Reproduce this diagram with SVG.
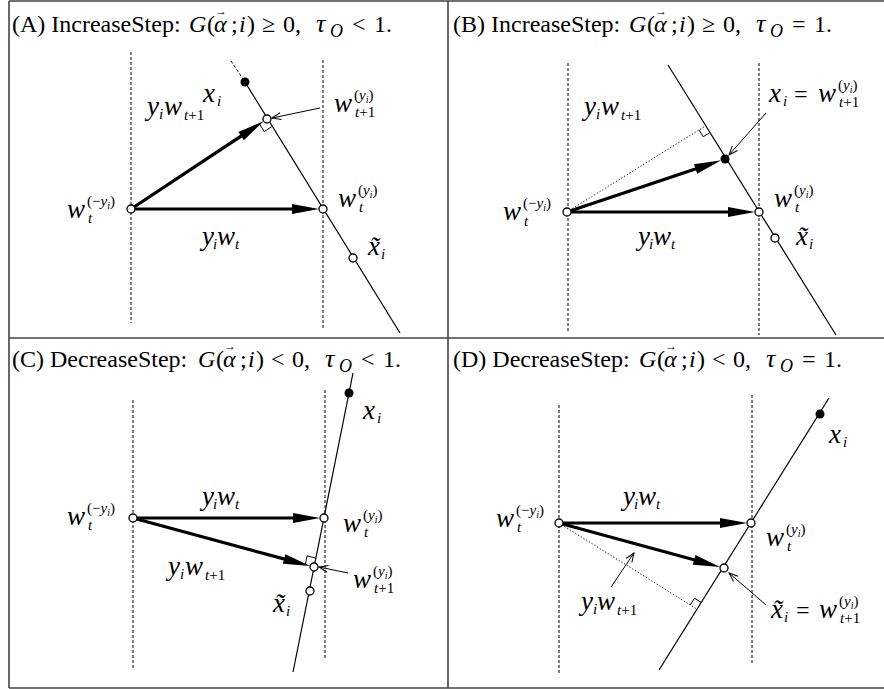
<svg xmlns="http://www.w3.org/2000/svg" width="884" height="689" viewBox="0 0 884 689" font-family="'Liberation Serif', serif">
<style>
.t{font-family:'Liberation Serif',serif;font-size:24px;fill:#000}
.it{font-style:italic}
.tau{font-size:26px}
.so{font-size:18px}
.vec{font-size:12px;font-style:normal}
.m{font-family:'Liberation Serif',serif;font-style:italic;font-size:27px;fill:#000}
.r{font-family:'Liberation Serif',serif;font-size:24px;fill:#000}
.s{font-family:'Liberation Serif',serif;font-size:15px;fill:#000}
.si{font-style:italic}
.ss{font-size:10px;font-style:italic}
.frame{stroke:#444;stroke-width:1.6;fill:none}
.dash{stroke:#000;stroke-width:1;stroke-dasharray:3 2;fill:none}
.dot{stroke:#000;stroke-width:1;stroke-dasharray:1.2 2;fill:none}
.ln{stroke:#000;stroke-width:1.2;fill:none}
.thick{stroke:#000;stroke-width:3.2;fill:none;marker-end:url(#ah)}
.thin{stroke:#000;stroke-width:1;fill:none;marker-end:url(#av)}
.ra{stroke:#000;stroke-width:1;fill:none}
.oc{fill:#fff;stroke:#000;stroke-width:1.3}
.fc{fill:#000}
</style>
<defs>
<marker id="ah" markerUnits="userSpaceOnUse" markerWidth="28" markerHeight="10" refX="17" refY="5" orient="auto" overflow="visible"><path d="M0,0 L27,5 L0,10 Z" fill="#000"/></marker>
<marker id="av" markerUnits="userSpaceOnUse" markerWidth="10" markerHeight="8" refX="9" refY="3.5" orient="auto" overflow="visible"><path d="M0,0 L9,3.5 L0,7" fill="none" stroke="#000" stroke-width="1"/></marker>
</defs>
<rect width="884" height="689" fill="#fff"/>
<g id="frame">
<path class="frame" d="M9,1 H884 M9,1 V688 M9,688 H884 M448,1 V688 M9,338 H884"/>
</g>

<!-- Panel A -->
<g id="panelA">
<text class="t" y="32"><tspan x="12">(A) IncreaseStep:</tspan><tspan x="189" class="it">G</tspan><tspan x="207">(</tspan><tspan x="214" class="it">α</tspan><tspan x="215" y="15" class="vec">→</tspan><tspan x="231" y="32">;</tspan><tspan x="239" class="it">i</tspan><tspan x="247">)</tspan><tspan x="262">≥</tspan><tspan x="283">0,</tspan><tspan x="316" class="it tau">τ</tspan><tspan x="330" y="37" class="it so">O</tspan><tspan x="352" y="32">&lt;</tspan><tspan x="374">1.</tspan></text>
<g id="A-connectors">
<line class="dash" x1="131" y1="52" x2="131" y2="323"/>
<line class="dash" x1="323" y1="60" x2="323" y2="330"/>
<line class="dash" x1="231" y1="61" x2="245" y2="82"/>
<line class="ln" x1="245" y1="82" x2="400" y2="333"/>
<line class="thick" x1="131" y1="209" x2="309" y2="209"/>
<line class="thick" x1="131" y1="209" x2="255.3" y2="126.7"/>
<path class="ra" d="M259.5,124 L264.2,131.6 L271.7,126.7"/>
<line class="thin" x1="320" y1="108" x2="272" y2="118"/>
<text class="m" x="147" y="115">y</text><text class="s si" x="159" y="119">i</text><text class="m" x="164" y="115">w</text><text class="s" x="184" y="120"><tspan class="si">t</tspan>+1</text>
<text class="m" x="202" y="245">y</text><text class="s si" x="213" y="249">i</text><text class="m" x="217" y="245">w</text><text class="s si" x="235" y="249">t</text>
</g>
<g id="A-xi"><circle class="fc" cx="245" cy="82" r="4.5"/><text class="m" x="203" y="102">x</text><text class="s si" x="217" y="106">i</text></g>
<g id="A-wnext"><circle class="oc" cx="267" cy="119" r="4"/><text class="m" x="334" y="112">w</text><text class="s" x="354" y="100">(<tspan class="si">y</tspan><tspan class="ss" dy="3">i</tspan><tspan dy="-3">)</tspan></text><text class="s" x="355" y="117"><tspan class="si">t</tspan>+1</text></g>
<g id="A-wpos"><circle class="oc" cx="323" cy="209" r="4"/><text class="m" x="338" y="207">w</text><text class="s" x="358" y="195">(<tspan class="si">y</tspan><tspan class="ss" dy="3">i</tspan><tspan dy="-3">)</tspan></text><text class="s si" x="359" y="212">t</text></g>
<g id="A-wneg"><circle class="oc" cx="131" cy="209" r="4"/><text class="m" x="67" y="218">w</text><text class="s" x="87" y="206">(−<tspan class="si">y</tspan><tspan class="ss" dy="3">i</tspan><tspan dy="-3">)</tspan></text><text class="s si" x="88" y="223">t</text></g>
<g id="A-xt"><circle class="oc" cx="353" cy="258" r="4"/><text class="m" x="368" y="255">x̃</text><text class="s si" x="381" y="259">i</text></g>
</g>

<!-- Panel B -->
<g id="panelB">
<text class="t" y="32"><tspan x="453">(B) IncreaseStep:</tspan><tspan x="629" class="it">G</tspan><tspan x="647">(</tspan><tspan x="654" class="it">α</tspan><tspan x="655" y="15" class="vec">→</tspan><tspan x="671" y="32">;</tspan><tspan x="679" class="it">i</tspan><tspan x="687">)</tspan><tspan x="702">≥</tspan><tspan x="723">0,</tspan><tspan x="756" class="it tau">τ</tspan><tspan x="770" y="37" class="it so">O</tspan><tspan x="792" y="32">=</tspan><tspan x="814">1.</tspan></text>
<g id="B-connectors">
<line class="dash" x1="568" y1="63" x2="568" y2="333"/>
<line class="dash" x1="759" y1="63" x2="759" y2="335"/>
<line class="ln" x1="668" y1="65" x2="836" y2="335"/>
<line class="dot" x1="567" y1="212" x2="705.8" y2="125.7"/>
<path class="ra" d="M699,129.9 L703.2,136.7 L710,132.5"/>
<line class="thick" x1="567" y1="212" x2="745" y2="212"/>
<line class="thick" x1="567" y1="212" x2="711.7" y2="163.5"/>
<line class="thin" x1="766" y1="113" x2="729" y2="155"/>
<text class="m" x="584" y="115">y</text><text class="s si" x="596" y="119">i</text><text class="m" x="601" y="115">w</text><text class="s" x="621" y="120"><tspan class="si">t</tspan>+1</text>
<text class="m" x="638" y="245">y</text><text class="s si" x="649" y="249">i</text><text class="m" x="653" y="245">w</text><text class="s si" x="671" y="249">t</text>
</g>
<g id="B-xi"><circle class="fc" cx="725" cy="159" r="4.5"/><text class="m" x="769" y="102">x</text><text class="s si" x="783" y="106">i</text><text class="r" x="794" y="102">=</text><text class="m" x="818" y="102">w</text><text class="s" x="838" y="90">(<tspan class="si">y</tspan><tspan class="ss" dy="3">i</tspan><tspan dy="-3">)</tspan></text><text class="s" x="839" y="107"><tspan class="si">t</tspan>+1</text></g>
<g id="B-wpos"><circle class="oc" cx="759" cy="212" r="4"/><text class="m" x="774" y="207">w</text><text class="s" x="794" y="195">(<tspan class="si">y</tspan><tspan class="ss" dy="3">i</tspan><tspan dy="-3">)</tspan></text><text class="s si" x="795" y="212">t</text></g>
<g id="B-wneg"><circle class="oc" cx="567" cy="212" r="4"/><text class="m" x="503" y="220">w</text><text class="s" x="523" y="208">(−<tspan class="si">y</tspan><tspan class="ss" dy="3">i</tspan><tspan dy="-3">)</tspan></text><text class="s si" x="524" y="226">t</text></g>
<g id="B-xt"><circle class="oc" cx="775" cy="238" r="4"/><text class="m" x="796" y="245">x̃</text><text class="s si" x="809" y="249">i</text></g>
</g>

<!-- Panel C -->
<g id="panelC">
<text class="t" y="367"><tspan x="12">(C) DecreaseStep:</tspan><tspan x="198" class="it">G</tspan><tspan x="216">(</tspan><tspan x="223" class="it">α</tspan><tspan x="224" y="350" class="vec">→</tspan><tspan x="240" y="367">;</tspan><tspan x="248" class="it">i</tspan><tspan x="256">)</tspan><tspan x="271">&lt;</tspan><tspan x="292">0,</tspan><tspan x="325" class="it tau">τ</tspan><tspan x="339" y="372" class="it so">O</tspan><tspan x="361" y="367">&lt;</tspan><tspan x="383">1.</tspan></text>
<g id="C-connectors">
<line class="dash" x1="133" y1="400" x2="133" y2="670"/>
<line class="dash" x1="325" y1="390" x2="325" y2="660"/>
<line class="ln" x1="353" y1="373" x2="293" y2="672"/>
<line class="thick" x1="133" y1="518" x2="310" y2="518"/>
<line class="thick" x1="133" y1="518" x2="300.5" y2="563.4"/>
<path class="ra" d="M305.3,564.6 L307.1,555.8 L315.8,558.2"/>
<line class="thin" x1="348" y1="573" x2="319" y2="567"/>
<text class="m" x="202" y="505">y</text><text class="s si" x="213" y="509">i</text><text class="m" x="217" y="505">w</text><text class="s si" x="235" y="509">t</text>
<text class="m" x="168" y="575">y</text><text class="s si" x="180" y="579">i</text><text class="m" x="185" y="575">w</text><text class="s" x="205" y="580"><tspan class="si">t</tspan>+1</text>
</g>
<g id="C-xi"><circle class="fc" cx="349" cy="393" r="4.5"/><text class="m" x="363" y="419">x</text><text class="s si" x="377" y="423">i</text></g>
<g id="C-wpos"><circle class="oc" cx="324" cy="518" r="4"/><text class="m" x="343" y="532">w</text><text class="s" x="363" y="520">(<tspan class="si">y</tspan><tspan class="ss" dy="3">i</tspan><tspan dy="-3">)</tspan></text><text class="s si" x="364" y="537">t</text></g>
<g id="C-wnext"><circle class="oc" cx="314" cy="567" r="4"/><text class="m" x="353" y="588">w</text><text class="s" x="373" y="576">(<tspan class="si">y</tspan><tspan class="ss" dy="3">i</tspan><tspan dy="-3">)</tspan></text><text class="s" x="374" y="593"><tspan class="si">t</tspan>+1</text></g>
<g id="C-wneg"><circle class="oc" cx="133" cy="518" r="4"/><text class="m" x="67" y="525">w</text><text class="s" x="87" y="513">(−<tspan class="si">y</tspan><tspan class="ss" dy="3">i</tspan><tspan dy="-3">)</tspan></text><text class="s si" x="88" y="530">t</text></g>
<g id="C-xt"><circle class="oc" cx="310" cy="591" r="4"/><text class="m" x="273" y="612">x̃</text><text class="s si" x="286" y="616">i</text></g>
</g>

<!-- Panel D -->
<g id="panelD">
<text class="t" y="367"><tspan x="453">(D) DecreaseStep:</tspan><tspan x="639" class="it">G</tspan><tspan x="657">(</tspan><tspan x="664" class="it">α</tspan><tspan x="665" y="350" class="vec">→</tspan><tspan x="681" y="367">;</tspan><tspan x="689" class="it">i</tspan><tspan x="697">)</tspan><tspan x="712">&lt;</tspan><tspan x="733">0,</tspan><tspan x="766" class="it tau">τ</tspan><tspan x="780" y="372" class="it so">O</tspan><tspan x="802" y="367">=</tspan><tspan x="824">1.</tspan></text>
<g id="D-connectors">
<line class="dash" x1="559" y1="405" x2="559" y2="673"/>
<line class="dash" x1="752" y1="395" x2="752" y2="665"/>
<line class="ln" x1="829" y1="398" x2="659" y2="670"/>
<line class="dot" x1="559" y1="523" x2="697" y2="609.2"/>
<path class="ra" d="M690.2,605 L694.5,598.2 L701.2,602.4"/>
<line class="thick" x1="559" y1="523" x2="737" y2="523"/>
<line class="thick" x1="559" y1="523" x2="710.5" y2="564.3"/>
<line class="thin" x1="611" y1="587" x2="634" y2="553"/>
<line class="thin" x1="766" y1="605" x2="729" y2="573"/>
<text class="m" x="623" y="505">y</text><text class="s si" x="634" y="509">i</text><text class="m" x="638" y="505">w</text><text class="s si" x="656" y="509">t</text>
<text class="m" x="581" y="610">y</text><text class="s si" x="593" y="614">i</text><text class="m" x="597" y="610">w</text><text class="s" x="617" y="615"><tspan class="si">t</tspan>+1</text>
</g>
<g id="D-xi"><circle class="fc" cx="820" cy="414" r="4.5"/><text class="m" x="829" y="443">x</text><text class="s si" x="843" y="447">i</text></g>
<g id="D-wpos"><circle class="oc" cx="751" cy="523" r="4"/><text class="m" x="766" y="546">w</text><text class="s" x="786" y="534">(<tspan class="si">y</tspan><tspan class="ss" dy="3">i</tspan><tspan dy="-3">)</tspan></text><text class="s si" x="787" y="551">t</text></g>
<g id="D-xt"><circle class="oc" cx="724" cy="568" r="4"/><text class="m" x="771" y="618">x̃</text><text class="s si" x="784" y="622">i</text><text class="r" x="796" y="618">=</text><text class="m" x="819" y="618">w</text><text class="s" x="839" y="606">(<tspan class="si">y</tspan><tspan class="ss" dy="3">i</tspan><tspan dy="-3">)</tspan></text><text class="s" x="840" y="623"><tspan class="si">t</tspan>+1</text></g>
<g id="D-wneg"><circle class="oc" cx="559" cy="523" r="4"/><text class="m" x="496" y="527">w</text><text class="s" x="516" y="515">(−<tspan class="si">y</tspan><tspan class="ss" dy="3">i</tspan><tspan dy="-3">)</tspan></text><text class="s si" x="517" y="532">t</text></g>
</g>
</svg>
